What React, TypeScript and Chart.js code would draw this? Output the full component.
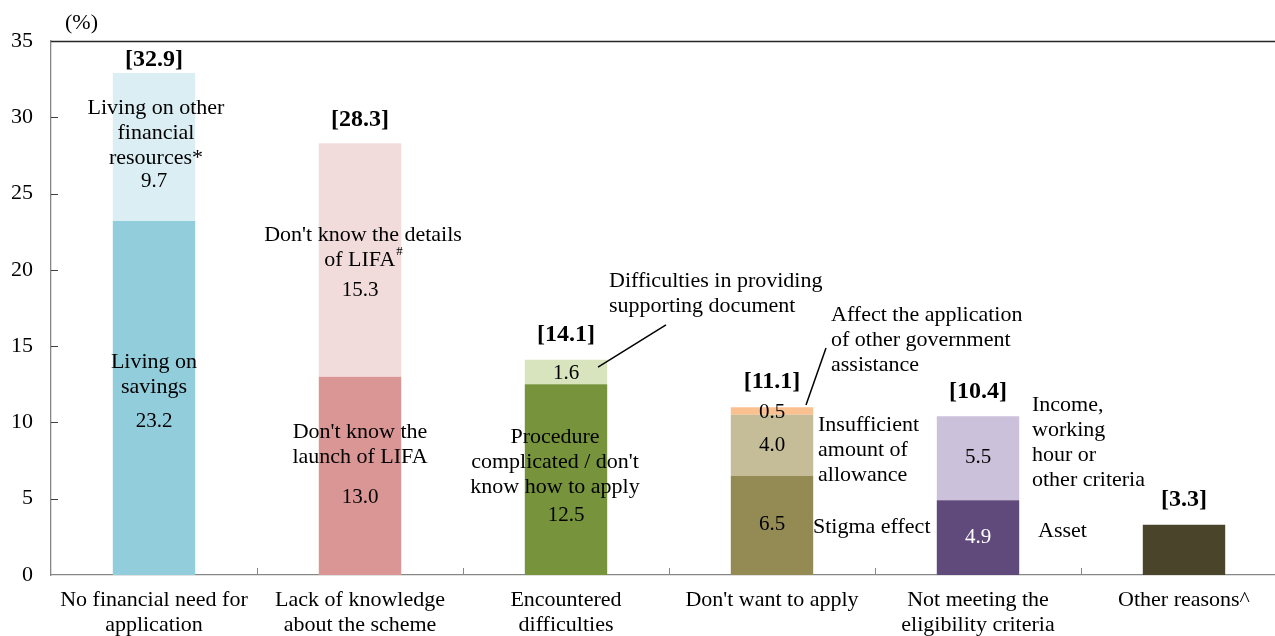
import React, { useEffect, useRef } from "react";
import { Chart, registerables } from "chart.js";

Chart.register(...registerables);

// ---------- DATA ----------
const categories: string[][] = [
  ["No financial need for", "application"],
  ["Lack of knowledge", "about the scheme"],
  ["Encountered", "difficulties"],
  ["Don't want to apply"],
  ["Not meeting the", "eligibility criteria"],
  ["Other reasons^"],
];
const level1Values: (number | null)[] = [23.2, 13.0, 12.5, 6.5, 4.9, 3.3];
const level2Values: (number | null)[] = [9.7, 15.3, 1.6, 4.0, 5.5, null];
const level3Values: (number | null)[] = [null, null, null, 0.5, null, null];
const totals: number[] = [32.9, 28.3, 14.1, 11.1, 10.4, 3.3];
const yTickValues: number[] = [0, 5, 10, 15, 20, 25, 30, 35];

const level1Colors = ["#92CDDC", "#DA9694", "#77933C", "#948A54", "#604A7B", "#4A452A"];
const level2Colors = ["#DAEEF3", "#F2DCDB", "#D7E4BD", "#C4BD97", "#CCC1DA", "#FFFFFF"];
const level3Colors = ["#FFFFFF", "#FFFFFF", "#FFFFFF", "#FAC090", "#FFFFFF", "#FFFFFF"];

const seriesByLevel = [level1Values, level2Values, level3Values];

// ---------- LAYOUT OF ANNOTATIONS ----------
type Line = string | [string, string];
type Block = { bar: number; at: number; dx: number; align?: "center" | "left"; lines: Line[] };

const textBlocks: Block[] = [
  { bar: 0, at: 30.61, dx: 2, lines: ["Living on other", "financial", "resources*"] },
  { bar: 0, at: 13.96, dx: 0, lines: ["Living on", "savings"] },
  { bar: 1, at: 22.28, dx: 3, lines: ["Don't know the details", ["of LIFA", "#"]] },
  { bar: 1, at: 9.37, dx: 0, lines: ["Don't know the", "launch of LIFA"] },
  { bar: 2, at: 9.05, dx: -11, lines: ["Procedure", "complicated / don't", "know how to apply"] },
  { bar: 2, at: 19.27, dx: 43, align: "left", lines: ["Difficulties in providing", "supporting document"] },
  { bar: 3, at: 17.04, dx: 59, align: "left", lines: ["Affect the application", "of other government", "assistance"] },
  { bar: 3, at: 9.83, dx: 46, align: "left", lines: ["Insufficient", "amount of", "allowance"] },
  { bar: 3, at: 3.15, dx: 41, align: "left", lines: ["Stigma effect"] },
  { bar: 4, at: 11.14, dx: 54, align: "left", lines: ["Income,", "working", "hour or", "other criteria"] },
  { bar: 4, at: 2.88, dx: 60, align: "left", lines: ["Asset"] },
];

const valueLabels = [
  { bar: 0, level: 0, at: 10.03 },
  { bar: 0, level: 1, at: 25.76 },
  { bar: 1, level: 0, at: 5.11 },
  { bar: 1, level: 1, at: 18.68 },
  { bar: 2, level: 0, at: 3.93 },
  { bar: 2, level: 1, at: 13.24 },
  { bar: 3, level: 0, at: 3.34 },
  { bar: 3, level: 1, at: 8.52 },
  { bar: 3, level: 2, at: 10.68 },
  { bar: 4, level: 0, at: 2.43, color: "#FFFFFF" },
  { bar: 4, level: 1, at: 7.67 },
];

const leaders = [
  { bar: 2, from: [32, 13.63], to: [100, 16.39] },
  { bar: 3, from: [34, 11.14], to: [54, 14.88] },
];

const totalOffsets = [-13, -23, -25, -24, -25, -25];

const FONT = '"Liberation Serif", "Times New Roman", serif';
const LINE_H = 25;

const annotationPlugin = {
  id: "annotations",
  afterDraw(chart: any) {
    const { ctx, chartArea, scales } = chart;
    const xs = scales.x;
    const ys = scales.y;
    const barX = (i: number) => xs.getPixelForValue(i);
    ctx.save();

    // top line (at max value)
    ctx.strokeStyle = "#262626";
    ctx.lineWidth = 1.3;
    ctx.beginPath();
    ctx.moveTo(chartArea.left, Math.round(ys.getPixelForValue(35)) + 0.5);
    ctx.lineTo(chartArea.right, Math.round(ys.getPixelForValue(35)) + 0.5);
    ctx.stroke();

    // y tick marks (inside)
    ctx.strokeStyle = "#404040";
    ctx.lineWidth = 1;
    yTickValues.forEach((v) => {
      if (v === 0 || v === 35) return;
      const y = Math.round(ys.getPixelForValue(v)) + 0.5;
      ctx.beginPath();
      ctx.moveTo(chartArea.left, y);
      ctx.lineTo(chartArea.left + 7, y);
      ctx.stroke();
    });

    // x category separators
    ctx.strokeStyle = "#868686";
    for (let i = 0; i < categories.length - 1; i++) {
      const x = Math.round((barX(i) + barX(i + 1)) / 2) + 0.5;
      ctx.beginPath();
      ctx.moveTo(x, chartArea.bottom - 7);
      ctx.lineTo(x, chartArea.bottom);
      ctx.stroke();
    }

    // (%) unit
    ctx.fillStyle = "#000";
    ctx.font = `22px ${FONT}`;
    ctx.textAlign = "left";
    ctx.textBaseline = "middle";
    ctx.fillText("(%)", 65, 23);

    // total labels
    ctx.font = `bold 24px ${FONT}`;
    ctx.textAlign = "center";
    totals.forEach((t, i) => {
      ctx.fillText(`[${t.toFixed(1)}]`, barX(i), ys.getPixelForValue(t) + totalOffsets[i]);
    });

    // value labels
    ctx.font = `21px ${FONT}`;
    valueLabels.forEach((l: any) => {
      const v = seriesByLevel[l.level][l.bar];
      if (v == null) return;
      ctx.fillStyle = l.color || "#000";
      ctx.fillText(v.toFixed(1), barX(l.bar), ys.getPixelForValue(l.at));
    });

    // text blocks
    ctx.fillStyle = "#000";
    textBlocks.forEach((b) => {
      const x0 = barX(b.bar) + b.dx;
      const y0 = ys.getPixelForValue(b.at);
      b.lines.forEach((line, k) => {
        const y = y0 + k * LINE_H;
        if (typeof line === "string") {
          ctx.font = `22px ${FONT}`;
          ctx.textAlign = b.align === "left" ? "left" : "center";
          ctx.fillText(line, x0, y);
        } else {
          ctx.font = `22px ${FONT}`;
          const w1 = ctx.measureText(line[0]).width;
          ctx.font = `13px ${FONT}`;
          const w2 = ctx.measureText(line[1]).width;
          const start = b.align === "left" ? x0 : x0 - (w1 + w2) / 2;
          ctx.textAlign = "left";
          ctx.font = `22px ${FONT}`;
          ctx.fillText(line[0], start, y);
          ctx.font = `13px ${FONT}`;
          ctx.fillText(line[1], start + w1 + 1, y - 8);
        }
      });
    });

    // leader lines
    ctx.strokeStyle = "#000";
    ctx.lineWidth = 1.5;
    leaders.forEach((l) => {
      ctx.beginPath();
      ctx.moveTo(barX(l.bar) + l.from[0], ys.getPixelForValue(l.from[1]));
      ctx.lineTo(barX(l.bar) + l.to[0], ys.getPixelForValue(l.to[1]));
      ctx.stroke();
    });

    ctx.restore();
  },
};

export default function App() {
  const ref = useRef<HTMLCanvasElement | null>(null);

  useEffect(() => {
    if (!ref.current) return;
    Chart.defaults.font.family = FONT;
    const chart = new Chart(ref.current, {
      type: "bar",
      data: {
        labels: categories,
        datasets: [
          { label: "level1", data: level1Values, backgroundColor: level1Colors, stack: "s" },
          { label: "level2", data: level2Values, backgroundColor: level2Colors, stack: "s" },
          { label: "level3", data: level3Values, backgroundColor: level3Colors, stack: "s" },
        ],
      },
      options: {
        responsive: false,
        animation: false,
        devicePixelRatio: 1,
        layout: { padding: { top: 41, right: 3, left: 0, bottom: 0 } },
        datasets: { bar: { barPercentage: 0.4, categoryPercentage: 1.0, borderWidth: 0 } },
        plugins: { legend: { display: false }, tooltip: { enabled: false } },
        scales: {
          x: {
            stacked: true,
            offset: true,
            grid: { display: false, drawTicks: false },
            border: { display: true, color: "#868686", width: 1.3 },
            ticks: {
              color: "#000",
              font: { size: 22, family: FONT, lineHeight: 1.13 },
              padding: 13,
              maxRotation: 0,
              autoSkip: false,
            },
            afterFit: (scale: any) => {
              scale.height = 61;
            },
          },
          y: {
            stacked: true,
            min: 0,
            max: 35,
            grid: { display: false, drawTicks: false },
            border: { display: true, color: "#868686", width: 1.3 },
            ticks: {
              stepSize: 5,
              color: "#000",
              font: { size: 22, family: FONT },
              padding: 18,
            },
            afterFit: (scale: any) => {
              scale.width = 51;
            },
          },
        },
      },
      plugins: [annotationPlugin],
    });
    return () => chart.destroy();
  }, []);

  return (
    <div
      style={{
        position: "absolute",
        left: 0,
        top: 0,
        width: 1275,
        height: 636,
        overflow: "hidden",
        background: "#fff",
      }}
    >
      <canvas ref={ref} width={1290} height={636} style={{ display: "block" }} />
    </div>
  );
}
